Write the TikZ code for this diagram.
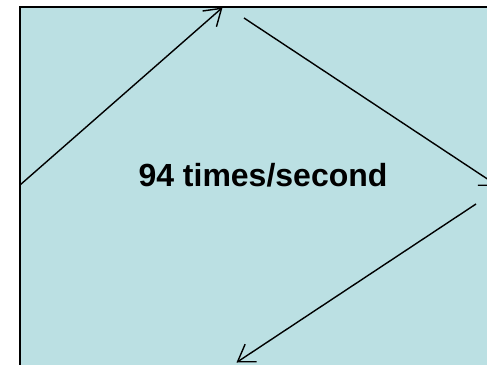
\documentclass[tikz,border=0pt]{standalone}
\usepackage{fontspec}
\setmainfont{Liberation Sans}
\usetikzlibrary{arrows.meta}
\definecolor{cyclefill}{HTML}{BBE0E3}
\tikzset{
  cyclepanel/.style={fill=cyclefill, draw=black, line width=2pt},
  cycleedge/.style={-{Straight Barb[length=16pt,width=21pt]}, line width=1.4pt},
  cyclerate/.style={font=\fontsize{32}{38}\selectfont\bfseries, inner sep=0pt}
}
\begin{document}
\begin{tikzpicture}[x=1pt,y=-1pt]
  \useasboundingbox (0,0) rectangle (487,364);
  \clip (0,0) rectangle (487,364);

  % panel, cut off at right and bottom
  \draw[cyclepanel] (20,6.8) rectangle (520,400);

  % end points of the three strokes
  \coordinate (leftin)   at (20,185);
  \coordinate (toptip)   at (222.5,7.5);
  \coordinate (topout)   at (244,18);
  \coordinate (righttip) at (498,186);
  \coordinate (rightout) at (476,204);
  \coordinate (bottip)   at (236.5,362.5);

  \draw[cycleedge] (leftin) -- (toptip);
  \draw[cycleedge] (topout) -- (righttip);
  \draw[cycleedge] (rightout) -- (bottip);

  \node[cyclerate] (rate) at (263,175) {94 times/second};
\end{tikzpicture}
\end{document}
